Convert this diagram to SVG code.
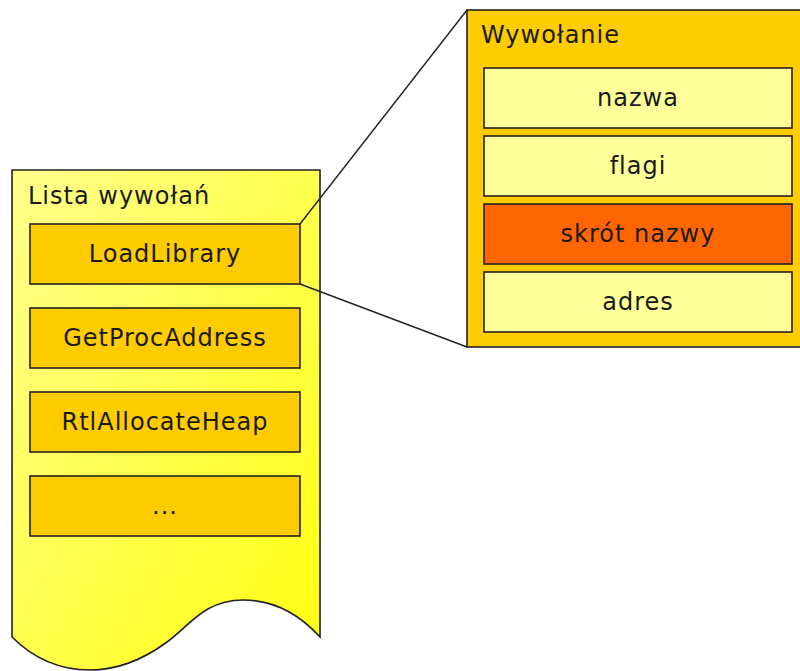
<svg xmlns="http://www.w3.org/2000/svg" width="800" height="671" viewBox="0 0 800 671">
  <defs>
    <linearGradient id="docFill" x1="0" y1="0" x2="1" y2="1">
      <stop offset="0" stop-color="#ffff8c"/>
      <stop offset="1" stop-color="#ffff10"/>
    </linearGradient>
    <style>
      .frame { stroke: #222; stroke-width: 1.6; }
      .item { fill: #ffcc00; stroke: #222; stroke-width: 1.6; }
      .field { fill: #ffff99; stroke: #222; stroke-width: 1.6; }
      .hot { fill: #ff6600; stroke: #222; stroke-width: 1.6; }
      text { font-family: "DejaVu Sans", sans-serif; font-size: 24px; fill: #1a1a1a; letter-spacing: 1px; }
      .c { text-anchor: middle; }
      .link { fill: none; stroke: #222; stroke-width: 1.4; }
    </style>
  </defs>

  <rect width="800" height="671" fill="#ffffff"/>

  <!-- call list document -->
  <g id="call-list">
    <path class="frame" fill="url(#docFill)" d="M12,170 H320 V637 C300,615 275,600 243,600 C205,600 190,625 167,642 C140,662 115,670 90,670 C55,670 30,655 12,637 Z"/>
    <text x="28" y="204">Lista wywołań</text>
  </g>

  <g id="load-library">
    <rect class="item" x="30" y="224" width="270" height="60"/>
    <text class="c" x="165" y="262">LoadLibrary</text>
  </g>
  <g id="get-proc-address">
    <rect class="item" x="30" y="308" width="270" height="60"/>
    <text class="c" x="165" y="346">GetProcAddress</text>
  </g>
  <g id="rtl-allocate-heap">
    <rect class="item" x="30" y="392" width="270" height="60"/>
    <text class="c" x="165" y="430">RtlAllocateHeap</text>
  </g>
  <g id="more-calls">
    <rect class="item" x="30" y="476" width="270" height="60"/>
    <text class="c" x="165" y="514">...</text>
  </g>

  <!-- detail panel for a single call -->
  <g id="call-detail">
    <rect class="item" x="467" y="10" width="345" height="337"/>
    <text x="481" y="43">Wywołanie</text>
  </g>
  <g id="field-name">
    <rect class="field" x="484" y="68" width="308" height="60"/>
    <text class="c" x="638" y="106">nazwa</text>
  </g>
  <g id="field-flags">
    <rect class="field" x="484" y="136" width="308" height="60"/>
    <text class="c" x="638" y="174">flagi</text>
  </g>
  <g id="field-hash">
    <rect class="hot" x="484" y="204" width="308" height="60"/>
    <text class="c" x="638" y="242">skrót nazwy</text>
  </g>
  <g id="field-address">
    <rect class="field" x="484" y="272" width="308" height="60"/>
    <text class="c" x="638" y="310">adres</text>
  </g>

  <!-- connectors: zoom lines from LoadLibrary to the detail panel -->
  <g id="connectors">
    <line class="link" x1="300" y1="224" x2="467" y2="10"/>
    <line class="link" x1="300" y1="284" x2="467" y2="347"/>
  </g>
</svg>
